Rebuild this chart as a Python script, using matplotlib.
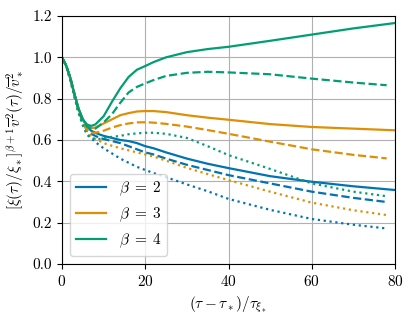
import matplotlib
matplotlib.use("Agg")
import matplotlib.pyplot as plt

plt.rcParams['font.family'] = 'serif'
plt.rcParams['font.serif'] = ['cmr10', 'DejaVu Serif']
plt.rcParams['mathtext.fontset'] = 'cm'
plt.rcParams['axes.formatter.use_mathtext'] = True
plt.rcParams['font.size'] = 11

# x grids
x_solid = [0, 1, 2, 3, 4, 5, 6, 7, 8, 9, 10, 12, 14, 16, 18, 20, 22, 25, 30, 35, 40, 50, 60, 70, 80]
x_other = [0, 1, 2, 3, 4, 5, 6, 7, 8, 9, 10, 12, 14, 16, 18, 20, 22, 25, 30, 35, 40, 50, 60, 70, 78]

# beta = 2 (blue)
b2_solid = [1.0, 0.96, 0.90, 0.82, 0.75, 0.70, 0.665, 0.645, 0.635, 0.627, 0.62, 0.61, 0.60, 0.595, 0.585, 0.57, 0.56, 0.54, 0.51, 0.485, 0.464, 0.425, 0.398, 0.376, 0.358]
b2_dashed = [1.0, 0.96, 0.90, 0.82, 0.74, 0.69, 0.645, 0.63, 0.62, 0.61, 0.605, 0.595, 0.585, 0.57, 0.555, 0.54, 0.53, 0.51, 0.48, 0.455, 0.43, 0.39, 0.35, 0.32, 0.30]
b2_dotted = [1.0, 0.96, 0.89, 0.81, 0.73, 0.68, 0.63, 0.61, 0.59, 0.575, 0.56, 0.535, 0.51, 0.49, 0.47, 0.455, 0.44, 0.42, 0.385, 0.352, 0.315, 0.262, 0.218, 0.19, 0.172]

# beta = 3 (orange)
b3_solid = [1.0, 0.96, 0.90, 0.82, 0.75, 0.70, 0.665, 0.657, 0.66, 0.67, 0.68, 0.70, 0.72, 0.73, 0.738, 0.74, 0.74, 0.735, 0.72, 0.708, 0.698, 0.677, 0.663, 0.655, 0.647]
b3_dashed = [1.0, 0.96, 0.90, 0.82, 0.74, 0.69, 0.645, 0.635, 0.635, 0.64, 0.645, 0.66, 0.672, 0.68, 0.685, 0.686, 0.684, 0.678, 0.665, 0.648, 0.63, 0.592, 0.555, 0.528, 0.511]
b3_dotted = [1.0, 0.96, 0.89, 0.81, 0.73, 0.685, 0.64, 0.62, 0.605, 0.595, 0.585, 0.572, 0.56, 0.55, 0.54, 0.53, 0.52, 0.50, 0.465, 0.435, 0.406, 0.35, 0.297, 0.26, 0.237]

# beta = 4 (green)
b4_solid = [1.0, 0.96, 0.90, 0.82, 0.75, 0.70, 0.675, 0.668, 0.675, 0.695, 0.715, 0.785, 0.85, 0.905, 0.94, 0.958, 0.977, 1.0, 1.025, 1.04, 1.051, 1.08, 1.11, 1.14, 1.166]
b4_dashed = [1.0, 0.96, 0.90, 0.82, 0.74, 0.69, 0.665, 0.655, 0.655, 0.67, 0.685, 0.725, 0.78, 0.83, 0.857, 0.874, 0.89, 0.91, 0.925, 0.93, 0.927, 0.918, 0.897, 0.878, 0.865]
b4_dotted = [1.0, 0.96, 0.89, 0.81, 0.73, 0.67, 0.625, 0.61, 0.605, 0.605, 0.61, 0.615, 0.62, 0.628, 0.632, 0.635, 0.635, 0.63, 0.61, 0.57, 0.527, 0.46, 0.39, 0.35, 0.328]

labels = [r'$\beta\;=\;2$', r'$\beta\;=\;3$', r'$\beta\;=\;4$']
colors = ['#0173b2', '#de8f05', '#029e73']

fig = plt.figure(figsize=(4.13, 3.2), dpi=100)
ax = fig.add_axes([62/413, 1 - 264/320, (395-62)/413, (264-16)/320])

series = [(b2_solid, b2_dashed, b2_dotted), (b3_solid, b3_dashed, b3_dotted), (b4_solid, b4_dashed, b4_dotted)]
lw = 1.6
for (s, d, p), c, lab in zip(series, colors, labels):
    ax.plot(x_solid, s, color=c, lw=lw, ls='-', label=lab)
    ax.plot(x_other, d, color=c, lw=lw, ls='--')
    ax.plot(x_other, p, color=c, lw=lw, ls=':')

ax.set_xlim(0, 80)
ax.set_ylim(0, 1.2)
ax.set_xticks([0, 20, 40, 60, 80])
ax.set_yticks([0.0, 0.2, 0.4, 0.6, 0.8, 1.0, 1.2])
ax.set_yticklabels(['0.0', '0.2', '0.4', '0.6', '0.8', '1.0', '1.2'])
ax.grid(True, color='#b0b0b0', lw=0.8)
ax.set_axisbelow(True)
ax.set_xlabel(r'$(\tau - \tau_*)/\tau_{\xi_*}$')
ax.set_ylabel(r'$[\xi(\tau)/\xi_*]^{\beta+1}\overline{v}^2(\tau)/\overline{v}_*^2$')
ax.legend(loc='lower left', fontsize=11, handlelength=2.0)

fig.savefig('out.png', dpi=100)
